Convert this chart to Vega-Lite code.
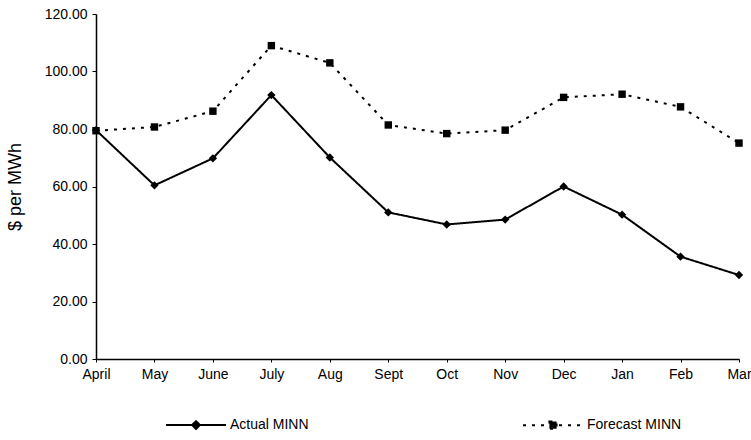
{
  "$schema": "https://vega.github.io/schema/vega-lite/v6.json",
  "width": 643,
  "height": 345,
  "autosize": {"type": "none"},
  "padding": {"left": 96, "top": 14, "right": 12, "bottom": 81},
  "background": "white",
  "config": {
    "view": {"stroke": null},
    "font": "Liberation Sans",
    "axis": {
      "labelFont": "Liberation Sans",
      "titleFont": "Liberation Sans",
      "labelColor": "black",
      "titleColor": "black",
      "domainColor": "black",
      "tickColor": "black",
      "grid": false
    },
    "legend": {"labelFont": "Liberation Sans", "labelColor": "black"}
  },
  "data": {
    "values": [
      {"month": "April", "series": "Actual MINN", "price": 79.6},
      {"month": "May", "series": "Actual MINN", "price": 60.4},
      {"month": "June", "series": "Actual MINN", "price": 69.8},
      {"month": "July", "series": "Actual MINN", "price": 91.8},
      {"month": "Aug", "series": "Actual MINN", "price": 70.1},
      {"month": "Sept", "series": "Actual MINN", "price": 51.0},
      {"month": "Oct", "series": "Actual MINN", "price": 46.8},
      {"month": "Nov", "series": "Actual MINN", "price": 48.5},
      {"month": "Dec", "series": "Actual MINN", "price": 60.0},
      {"month": "Jan", "series": "Actual MINN", "price": 50.2},
      {"month": "Feb", "series": "Actual MINN", "price": 35.6},
      {"month": "Mar", "series": "Actual MINN", "price": 29.2},
      {"month": "April", "series": "Forecast MINN", "price": 79.4},
      {"month": "May", "series": "Forecast MINN", "price": 80.7},
      {"month": "June", "series": "Forecast MINN", "price": 86.2},
      {"month": "July", "series": "Forecast MINN", "price": 109.0},
      {"month": "Aug", "series": "Forecast MINN", "price": 103.0},
      {"month": "Sept", "series": "Forecast MINN", "price": 81.4},
      {"month": "Oct", "series": "Forecast MINN", "price": 78.4},
      {"month": "Nov", "series": "Forecast MINN", "price": 79.6},
      {"month": "Dec", "series": "Forecast MINN", "price": 91.0},
      {"month": "Jan", "series": "Forecast MINN", "price": 92.1},
      {"month": "Feb", "series": "Forecast MINN", "price": 87.7},
      {"month": "Mar", "series": "Forecast MINN", "price": 75.1}
    ]
  },
  "encoding": {
    "x": {
      "field": "month",
      "type": "ordinal",
      "sort": ["April", "May", "June", "July", "Aug", "Sept", "Oct", "Nov", "Dec", "Jan", "Feb", "Mar"],
      "scale": {"type": "point", "padding": 0},
      "axis": {
        "title": null,
        "labelAngle": 0,
        "labelFontSize": 14,
        "labelPadding": 5,
        "tickSize": 3,
        "domainWidth": 1.5
      }
    },
    "y": {
      "field": "price",
      "type": "quantitative",
      "scale": {"domain": [0, 120], "nice": false, "zero": true},
      "axis": {
        "title": "$ per MWh",
        "titleFontSize": 18,
        "titleFontWeight": "normal",
        "titlePadding": 20,
        "values": [0, 20, 40, 60, 80, 100, 120],
        "format": ".2f",
        "labelFontSize": 14,
        "labelPadding": 5,
        "tickSize": 4,
        "domainWidth": 1.5
      }
    }
  },
  "layer": [
    {
      "mark": {"type": "line", "color": "black", "strokeWidth": 2},
      "encoding": {
        "detail": {"field": "series"},
        "strokeDash": {
          "field": "series",
          "type": "nominal",
          "scale": {"domain": ["Actual MINN", "Forecast MINN"], "range": [[1, 0], [3, 6]]},
          "legend": {
            "title": null,
            "orient": "none",
            "legendX": 69,
            "legendY": 380,
            "direction": "horizontal",
            "columns": 2,
            "columnPadding": 210,
            "symbolSize": 3600,
            "symbolStrokeWidth": 2,
            "symbolStrokeColor": "black",
            "labelFontSize": 14,
            "labelOffset": 3,
            "encode": {
              "symbols": {
                "update": {
                  "shape": {"signal": "datum.value == 'Actual MINN' ? 'M-1,0H1M0,-0.13L0.13,0L0,0.13L-0.13,0Z' : 'M-1,0H1M-0.12,-0.12H0.12V0.12H-0.12Z'"},
                  "size": {"value": 3600},
                  "fill": {"value": "black"},
                  "stroke": {"value": "black"},
                  "strokeWidth": {"value": 2},
                  "opacity": {"value": 1}
                }
              }
            }
          }
        }
      }
    },
    {
      "transform": [{"filter": "datum.series == 'Actual MINN'"}],
      "mark": {"type": "point", "shape": "diamond", "size": 70, "filled": true, "color": "black", "opacity": 1}
    },
    {
      "transform": [{"filter": "datum.series == 'Forecast MINN'"}],
      "mark": {"type": "point", "shape": "square", "size": 55, "filled": true, "color": "black", "opacity": 1}
    }
  ]
}
